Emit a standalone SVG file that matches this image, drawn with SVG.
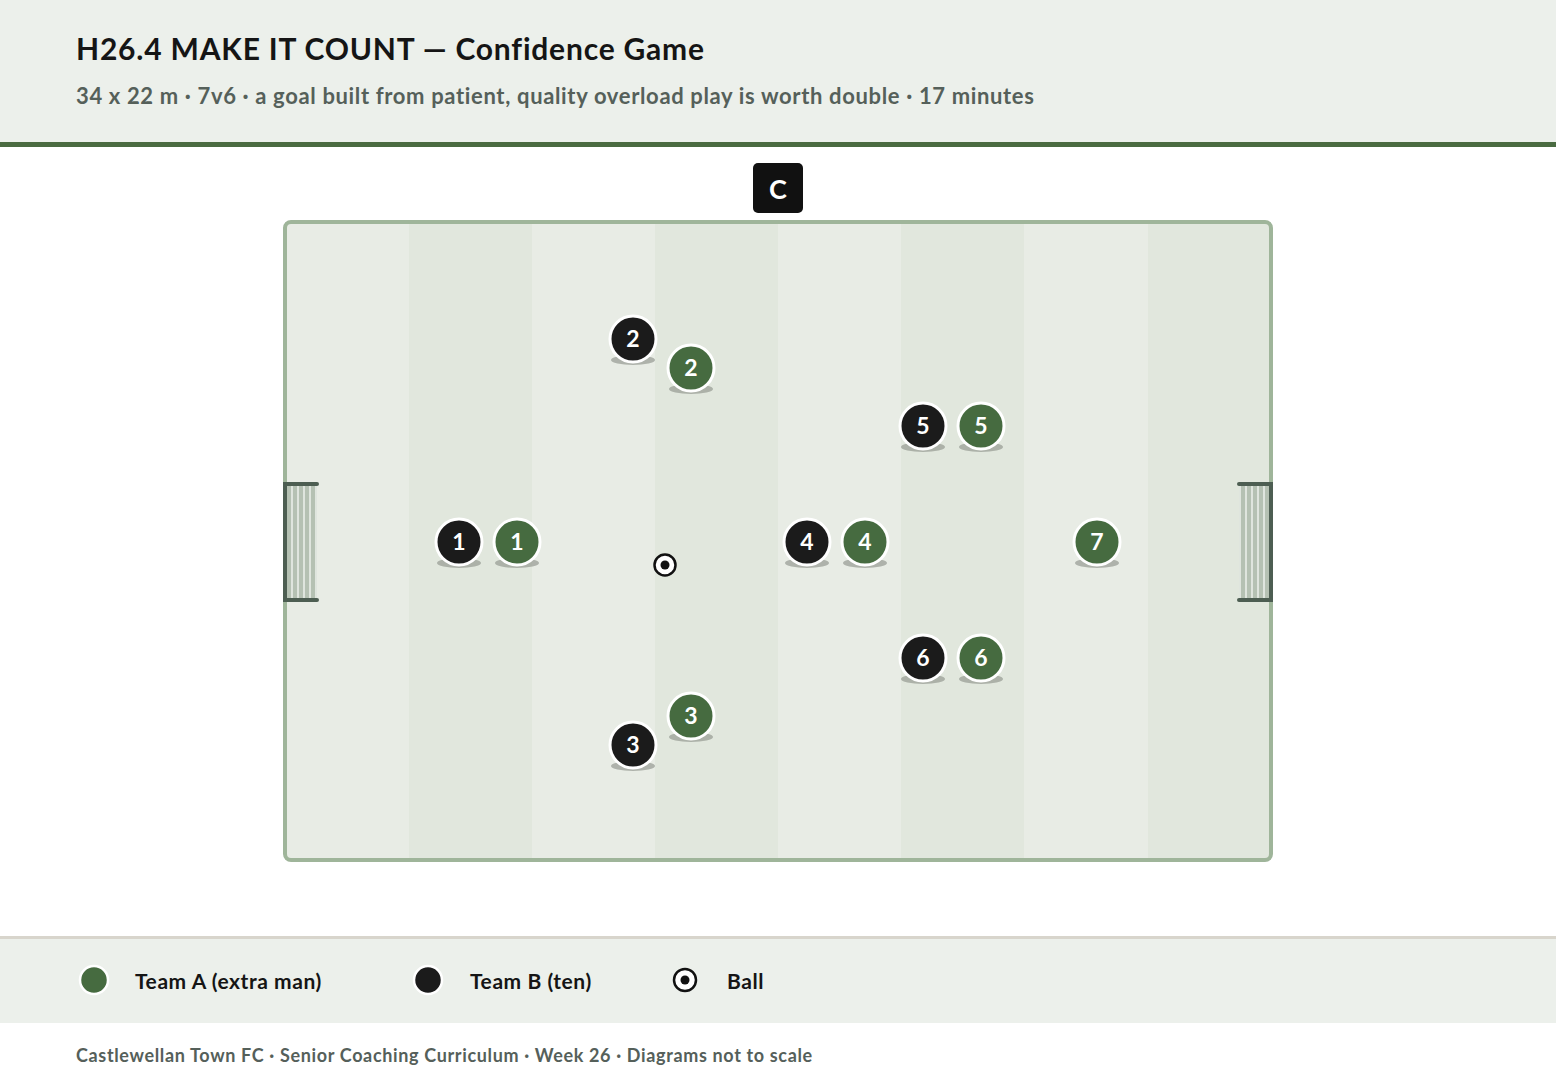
<svg xmlns="http://www.w3.org/2000/svg" width="1556" height="1080" viewBox="0 0 1556 1080">
<style>
text{font-family:Lato,"Liberation Sans",sans-serif;font-weight:bold;font-variant-ligatures:none}
.title{font-size:30px;fill:#151515;letter-spacing:0.8px}
.sub{font-size:22px;fill:#55605a;letter-spacing:0.65px}
.foot{font-size:18px;fill:#55605a;letter-spacing:0.65px}
.leg{font-size:21px;fill:#151515;letter-spacing:0.55px}
.num{font-size:23px;fill:#fff;text-anchor:middle}
.pa{fill:#466b40;stroke:#fff;stroke-width:3}
.pb{fill:#1b1b1b;stroke:#fff;stroke-width:3}
.sh{fill:#8f948c;opacity:.65}
.sl{fill:#e8ece5}
.sd{fill:#e1e7dd}
.post{stroke:#4d5e52;stroke-width:4;fill:none;stroke-linecap:round}
.net{stroke:#eef1ec;stroke-width:1.5}
</style>
<rect width="1556" height="1080" fill="#fff"/>
<rect x="0" y="0" width="1556" height="142" fill="#ecf0eb"/>
<rect x="0" y="142" width="1556" height="5" fill="#4a6b41"/>
<text class="title" x="76" y="60">H26.4 MAKE IT COUNT — Confidence Game</text>
<text class="sub" x="76" y="104">34 x 22 m · 7v6 · a goal built from patient, quality overload play is worth double · 17 minutes</text>

<g id="pitch">
<rect x="285" y="222" width="986" height="638" rx="6" fill="#e8ece5"/>
<rect class="sl" x="285" y="222" width="124" height="638"/>
<rect class="sd" x="409" y="222" width="123" height="638"/>
<rect class="sl" x="532" y="222" width="123" height="638"/>
<rect class="sd" x="655" y="222" width="123" height="638"/>
<rect class="sl" x="778" y="222" width="123" height="638"/>
<rect class="sd" x="901" y="222" width="123" height="638"/>
<rect class="sl" x="1024" y="222" width="124" height="638"/>
<rect class="sd" x="1148" y="222" width="123" height="638"/>
<rect x="285" y="222" width="986" height="638" rx="6" fill="none" stroke="#9fb59a" stroke-width="4"/>
</g>

<g id="goal-left">
<rect x="287" y="485" width="30" height="114" fill="#b5c1b3"/>
<line class="net" x1="292" y1="486" x2="292" y2="598"/>
<line class="net" x1="298" y1="486" x2="298" y2="598"/>
<line class="net" x1="304" y1="486" x2="304" y2="598"/>
<line class="net" x1="310" y1="486" x2="310" y2="598"/>
<line class="net" x1="316" y1="486" x2="316" y2="598"/>
<path class="post" d="M317,484 H285 V600 H317"/>
</g>
<g id="goal-right">
<rect x="1239" y="485" width="30" height="114" fill="#b5c1b3"/>
<line class="net" x1="1240" y1="486" x2="1240" y2="598"/>
<line class="net" x1="1246" y1="486" x2="1246" y2="598"/>
<line class="net" x1="1252" y1="486" x2="1252" y2="598"/>
<line class="net" x1="1258" y1="486" x2="1258" y2="598"/>
<line class="net" x1="1264" y1="486" x2="1264" y2="598"/>
<path class="post" d="M1239,484 H1271 V600 H1239"/>
</g>

<g id="coach">
<rect x="753" y="163" width="50" height="50" rx="5" fill="#111"/>
<text x="778" y="199" font-size="27" fill="#fff" text-anchor="middle">C</text>
</g>

<g id="players">
<g id="b1"><ellipse class="sh" cx="459" cy="563" rx="22" ry="5"/><circle class="pb" cx="459" cy="542" r="23"/><text class="num" x="459" y="550">1</text></g>
<g id="a1"><ellipse class="sh" cx="517" cy="563" rx="22" ry="5"/><circle class="pa" cx="517" cy="542" r="23"/><text class="num" x="517" y="550">1</text></g>
<g id="b2"><ellipse class="sh" cx="633" cy="360" rx="22" ry="5"/><circle class="pb" cx="633" cy="339" r="23"/><text class="num" x="633" y="347">2</text></g>
<g id="a2"><ellipse class="sh" cx="691" cy="389" rx="22" ry="5"/><circle class="pa" cx="691" cy="368" r="23"/><text class="num" x="691" y="376">2</text></g>
<g id="b3"><ellipse class="sh" cx="633" cy="766" rx="22" ry="5"/><circle class="pb" cx="633" cy="745" r="23"/><text class="num" x="633" y="753">3</text></g>
<g id="a3"><ellipse class="sh" cx="691" cy="737" rx="22" ry="5"/><circle class="pa" cx="691" cy="716" r="23"/><text class="num" x="691" y="724">3</text></g>
<g id="b4"><ellipse class="sh" cx="807" cy="563" rx="22" ry="5"/><circle class="pb" cx="807" cy="542" r="23"/><text class="num" x="807" y="550">4</text></g>
<g id="a4"><ellipse class="sh" cx="865" cy="563" rx="22" ry="5"/><circle class="pa" cx="865" cy="542" r="23"/><text class="num" x="865" y="550">4</text></g>
<g id="b5"><ellipse class="sh" cx="923" cy="447" rx="22" ry="5"/><circle class="pb" cx="923" cy="426" r="23"/><text class="num" x="923" y="434">5</text></g>
<g id="a5"><ellipse class="sh" cx="981" cy="447" rx="22" ry="5"/><circle class="pa" cx="981" cy="426" r="23"/><text class="num" x="981" y="434">5</text></g>
<g id="b6"><ellipse class="sh" cx="923" cy="679" rx="22" ry="5"/><circle class="pb" cx="923" cy="658" r="23"/><text class="num" x="923" y="666">6</text></g>
<g id="a6"><ellipse class="sh" cx="981" cy="679" rx="22" ry="5"/><circle class="pa" cx="981" cy="658" r="23"/><text class="num" x="981" y="666">6</text></g>
<g id="a7"><ellipse class="sh" cx="1097" cy="563" rx="22" ry="5"/><circle class="pa" cx="1097" cy="542" r="23"/><text class="num" x="1097" y="550">7</text></g>
</g>

<g id="ball">
<circle cx="665" cy="565" r="10.5" fill="#fff" stroke="#111" stroke-width="2.5"/>
<circle cx="665" cy="565" r="4.5" fill="#111"/>
</g>

<g id="connectors"></g>

<g id="legend">
<rect x="0" y="936" width="1556" height="3" fill="#d8d5cc"/>
<rect x="0" y="939" width="1556" height="84" fill="#ecf0eb"/>
<circle cx="94" cy="980" r="14" fill="#466b40" stroke="#fff" stroke-width="2.5"/>
<text class="leg" x="135" y="989">Team A (extra man)</text>
<circle cx="428" cy="980" r="14" fill="#1b1b1b" stroke="#fff" stroke-width="2.5"/>
<text class="leg" x="470" y="989">Team B (ten)</text>
<circle cx="685" cy="980" r="11" fill="#fff" stroke="#111" stroke-width="2.5"/>
<circle cx="685" cy="980" r="4.5" fill="#111"/>
<text class="leg" x="727" y="989">Ball</text>
</g>

<text class="foot" x="76" y="1062">Castlewellan Town FC · Senior Coaching Curriculum · Week 26 · Diagrams not to scale</text>
</svg>
